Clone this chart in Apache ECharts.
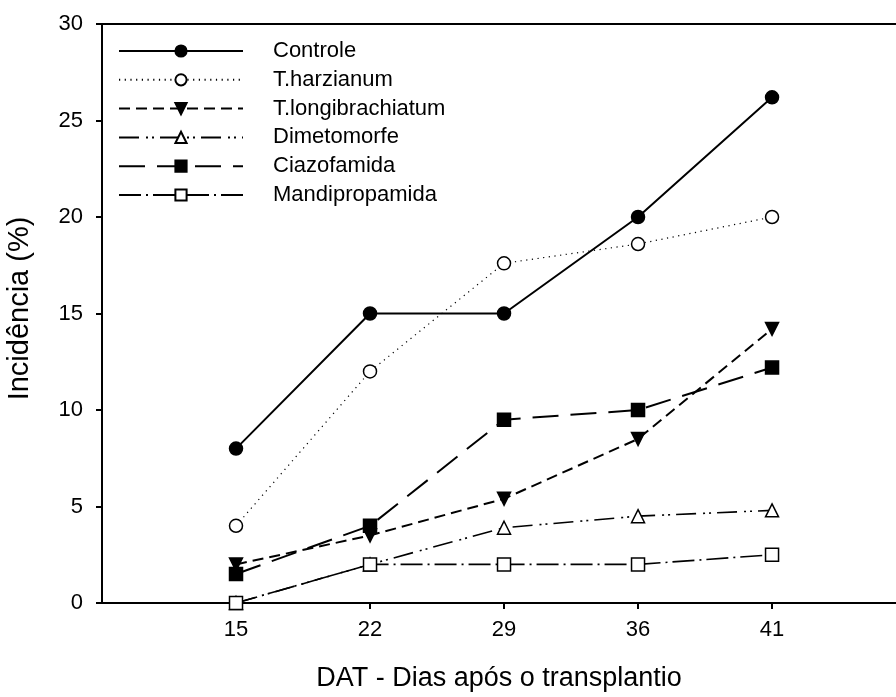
<!DOCTYPE html>
<html>
<head>
<meta charset="utf-8">
<script src="https://cdn.jsdelivr.net/npm/echarts@6/dist/echarts.min.js"></script>
<style>
  html, body { margin: 0; padding: 0; background: #fff; }
  #chart { width: 896px; height: 697px; }
</style>
</head>
<body>
<div id="chart"></div>
<script>
// Days after transplanting (DAT), drawn at evenly spaced positions
const days = ['15', '22', '29', '36', '41'];

// Disease incidence (%) per treatment
const controle = [8, 15, 15, 20, 26.2];
const tHarzianum = [4, 12, 17.6, 18.6, 20];
const tLongibrachiatum = [2, 3.5, 5.4, 8.5, 14.2];
const dimetomorfe = [0, 2, 3.9, 4.5, 4.8];
const ciazofamida = [1.5, 4, 9.5, 10, 12.2];
const mandipropamida = [0, 2, 2, 2, 2.5];

const yTicks = [0, 5, 10, 15, 20, 25, 30];

const font = 'Liberation Sans, Arial, sans-serif';

function pts(values) {
  return values.map((v, i) => [i, v]);
}

function makeSeries(name, values, symbol, fill, dash, width, rotate) {
  return {
    name: name,
    type: 'line',
    data: pts(values),
    symbol: symbol,
    symbolSize: 13,
    symbolRotate: rotate || 0,
    showAllSymbol: true,
    lineStyle: { color: '#000', width: width, type: dash },
    itemStyle: { color: fill, borderColor: '#000', borderWidth: 1.5 },
    emphasis: { disabled: true },
    z: 3
  };
}

const chart = echarts.init(document.getElementById('chart'), null, { renderer: 'canvas' });

chart.setOption({
  animation: false,
  backgroundColor: '#fff',
  grid: { left: 102, top: 24, right: 0, bottom: 94, containLabel: false, outerBoundsMode: 'none' },
  legend: {
    orient: 'vertical',
    left: 118,
    top: 40,
    padding: 0,
    itemWidth: 124,
    itemHeight: 14,
    itemGap: 6.8,
    textStyle: { fontFamily: font, fontSize: 22, color: '#000', padding: [0, 0, 0, 25] },
    data: ['Controle', 'T.harzianum', 'T.longibrachiatum', 'Dimetomorfe', 'Ciazofamida', 'Mandipropamida']
  },
  xAxis: [
    {
      type: 'value',
      min: -1,
      max: 4.925,
      interval: 1,
      name: 'DAT - Dias após o transplantio',
      nameLocation: 'middle',
      nameGap: 62,
      nameTextStyle: { fontFamily: font, fontSize: 27, color: '#000' },
      axisLine: { show: true, onZero: false, lineStyle: { color: '#000', width: 2 } },
      axisTick: { show: true, inside: false, length: 6, lineStyle: { color: '#000', width: 2 } },
      axisLabel: {
        fontFamily: font, fontSize: 22, color: '#000', margin: 16,
        showMinLabel: false, showMaxLabel: false,
        formatter: v => (Number.isInteger(v) && v >= 0 && v < days.length) ? days[v] : ''
      },
      splitLine: { show: false }
    },
    {
      type: 'value',
      position: 'top',
      min: -1,
      max: 4.925,
      axisLine: { show: true, onZero: false, lineStyle: { color: '#000', width: 2 } },
      axisTick: { show: false },
      axisLabel: { show: false },
      splitLine: { show: false }
    }
  ],
  yAxis: {
    type: 'value',
    min: yTicks[0],
    max: yTicks[yTicks.length - 1],
    interval: 5,
    name: 'Incidência (%)',
    nameLocation: 'middle',
    nameGap: 68,
    nameRotate: 90,
    nameTextStyle: { fontFamily: font, fontSize: 29, color: '#000', padding: [0, 0, 0, 10] },
    axisLine: { show: true, onZero: false, lineStyle: { color: '#000', width: 2 } },
    axisTick: { show: true, inside: false, length: 6, lineStyle: { color: '#000', width: 2 } },
    axisLabel: { fontFamily: font, fontSize: 22, color: '#000', margin: 19 },
    splitLine: { show: false }
  },
  series: [
    makeSeries('Controle', controle, 'circle', '#000', 'solid', 2),
    makeSeries('T.harzianum', tHarzianum, 'circle', '#fff', [1.2, 4.5], 1.2),
    makeSeries('T.longibrachiatum', tLongibrachiatum, 'triangle', '#000', [11, 6], 2, 180),
    makeSeries('Dimetomorfe', dimetomorfe, 'triangle', '#fff', [20, 7, 2, 4, 2, 6], 1.6),
    makeSeries('Ciazofamida', ciazofamida, 'rect', '#000', [26, 12], 2),
    makeSeries('Mandipropamida', mandipropamida, 'rect', '#fff', [22, 5, 2, 5], 1.6)
  ]
});
</script>
</body>
</html>
